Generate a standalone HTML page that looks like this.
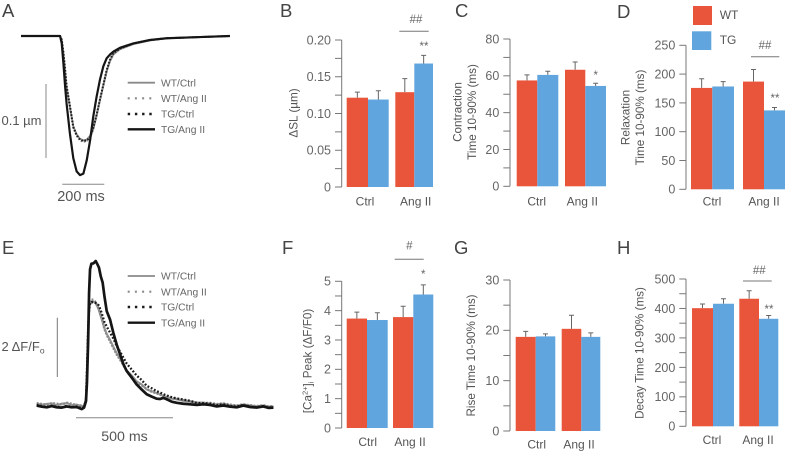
<!DOCTYPE html>
<html lang="en">
<head>
<meta charset="utf-8">
<title>Cardiomyocyte contraction and calcium transients</title>
<style>
html,body{margin:0;padding:0;background:#fff;}
svg{display:block;font-family:"Liberation Sans",sans-serif;filter:blur(0.3px);}
text{fill:#555;}
.letter{font-size:18.5px;fill:#444;}
.leg{font-size:10.3px;fill:#666;}
.tick{font-size:12.5px;fill:#666;}
.cat{font-size:12px;fill:#555;}
.title{font-size:11.7px;fill:#555;}
.sig{font-size:11.5px;fill:#666;}
</style>
</head>
<body>
<svg id="fig" xmlns="http://www.w3.org/2000/svg" width="785" height="452" viewBox="0 0 785 452">
  <text class="letter" x="2" y="17">A</text>
  <text class="letter" x="280" y="17">B</text>
  <text class="letter" x="455" y="17">C</text>
  <text class="letter" x="617" y="18">D</text>
  <text class="letter" x="2" y="254">E</text>
  <text class="letter" x="282" y="254">F</text>
  <text class="letter" x="454" y="254">G</text>
  <text class="letter" x="617" y="254">H</text>

  <g>
    <rect x="693" y="6" width="19" height="19" fill="#E9553A"/>
    <rect x="692" y="31.3" width="19.3" height="18.7" fill="#60A5DD"/>
    <text x="719.7" y="19" font-size="12">WT</text>
    <text x="719.7" y="44" font-size="12">TG</text>
  </g>

  <g>
    <line x1="46" y1="84" x2="46" y2="158" stroke="#888" stroke-width="1"/>
    <line x1="62.3" y1="184.3" x2="104.3" y2="184.3" stroke="#888" stroke-width="1"/>
    <text x="1.5" y="125" font-size="13">0.1 µm</text>
    <text x="81" y="201" font-size="14.5" text-anchor="middle">200 ms</text>
  </g>
  <g>
    <line x1="57.3" y1="317.7" x2="57.3" y2="377" stroke="#777" stroke-width="1"/>
    <line x1="76" y1="417.7" x2="173" y2="417.7" stroke="#888" stroke-width="1"/>
    <text x="1.5" y="351" font-size="13">2 ΔF/F<tspan font-size="8.5" dy="2.5">o</tspan></text>
    <text x="124.5" y="441" font-size="14.2" text-anchor="middle">500 ms</text>
  </g>

  <g>
    <line x1="399.3" y1="31.3" x2="428.7" y2="31.3" stroke="#777"/>
    <text class="sig" x="416" y="23" text-anchor="middle">##</text>
    <text class="sig" x="424" y="50" text-anchor="middle">**</text>
  </g>
  <text class="sig" x="595.7" y="79" text-anchor="middle">*</text>
  <g>
    <line x1="751" y1="56.7" x2="779.3" y2="56.7" stroke="#777"/>
    <text class="sig" x="765" y="49" text-anchor="middle">##</text>
    <text class="sig" x="775" y="102" text-anchor="middle">**</text>
  </g>
  <g>
    <line x1="394.7" y1="259.3" x2="423.7" y2="259.3" stroke="#777"/>
    <text class="sig" x="409.3" y="249.5" text-anchor="middle">#</text>
    <text class="sig" x="423.3" y="278" text-anchor="middle">*</text>
  </g>
  <g>
    <line x1="743" y1="281" x2="771.7" y2="281" stroke="#777"/>
    <text class="sig" x="759.3" y="274" text-anchor="middle">##</text>
    <text class="sig" x="769" y="313" text-anchor="middle">**</text>
  </g>

  <text class="title" transform="translate(297.7,113) rotate(-90)" text-anchor="middle">ΔSL (µm)</text>
  <text class="title" transform="translate(461.7,112) rotate(-90)" text-anchor="middle">Contraction</text>
  <text class="title" transform="translate(476,112) rotate(-90)" text-anchor="middle">Time 10-90% (ms)</text>
  <text class="title" transform="translate(629.3,117.5) rotate(-90)" text-anchor="middle">Relaxation</text>
  <text class="title" transform="translate(644,117.5) rotate(-90)" text-anchor="middle">Time 10-90% (ms)</text>
  <text class="title" transform="translate(311.7,361) rotate(-90)" text-anchor="middle">[Ca<tspan font-size="7.5" dy="-4">2+</tspan><tspan dy="4">]</tspan><tspan font-size="7.5" dy="2">i</tspan><tspan dy="-2"> Peak (ΔF/F0)</tspan></text>
  <text class="title" transform="translate(475,355.5) rotate(-90)" text-anchor="middle">Rise Time 10-90% (ms)</text>
  <text class="title" transform="translate(643.3,353) rotate(-90)" text-anchor="middle">Decay Time 10-90% (ms)</text>
</svg>

<script>
// ---------- Panel A: sarcomere shortening traces ----------
const aTimes = [0,186,194,202,210,217,233,249,265,281,297,313,329,344,360,376,392,408,424,440,471,535,614,694,852,995];
const aTgAng  = [0,0,-.010,-.037,-.068,-.091,-.132,-.165,-.183,-.188,-.186,-.168,-.141,-.109,-.082,-.059,-.041,-.030,-.025,-.021,-.016,-.010,-.0054,-.003,-.0014,0];
const aTgCtrl = [0,0,-.005,-.023,-.046,-.068,-.095,-.123,-.134,-.140,-.142,-.141,-.137,-.125,-.107,-.086,-.066,-.046,-.032,-.023,-.017,-.010,-.0054,-.003,-.0014,0];
const aWtCtrl = [0,0,-.006,-.024,-.047,-.069,-.096,-.122,-.133,-.139,-.141,-.140,-.135,-.124,-.106,-.086,-.067,-.048,-.034,-.025,-.018,-.011,-.006,-.003,-.0014,0];
const aWtAng  = [0,0,-.005,-.022,-.045,-.067,-.094,-.124,-.135,-.141,-.143,-.142,-.138,-.126,-.108,-.087,-.067,-.047,-.033,-.024,-.017,-.010,-.0056,-.003,-.0014,0];

// ---------- Panel E: calcium transient traces ----------
const eTimes = [0,26,52,77,103,129,155,180,206,232,244,254,259,265,270,275,282,292,304,313,321,330,340,349,361,378,395,412,430,447,464,490,515,541,567,593,619,636,653,670,696,722,756,790,825,859,893,928,962,997,1031,1065,1100,1134,1168,1194,1220];
const eTgAng  = [.04,0,-.02,.02,-.02,-.03,.01,-.02,-.01,-.08,-.03,.19,.81,2.16,3.84,4.63,4.82,4.83,4.91,4.80,4.69,4.40,4.18,3.73,3.22,2.94,2.49,2.10,1.76,1.43,1.20,.98,.75,.58,.42,.34,.27,.26,.30,.25,.17,.13,.10,.08,.06,.08,.06,.01,.04,0,-.02,.04,-.01,-.03,.01,-.04,-.03];
const eTgCtrl = [.06,.02,-.01,.03,0,-.02,.03,-.01,0,-.05,-.01,.20,1.20,2.60,3.30,3.50,3.53,3.52,3.50,3.48,3.40,3.25,3.05,2.85,2.70,2.50,2.30,2.05,1.85,1.65,1.45,1.25,1.05,.90,.70,.62,.52,.48,.42,.38,.32,.28,.24,.20,.13,.12,.10,.05,.08,.02,0,.06,0,-.02,.02,-.03,-.02];
const eWtCtrl = [.10,.07,.09,.11,.05,.10,.12,.06,.07,.02,.03,.25,1.10,2.40,3.20,3.45,3.50,3.55,3.48,3.38,3.25,3.05,2.85,2.65,2.45,2.25,2.02,1.80,1.62,1.42,1.22,1.05,.85,.75,.58,.52,.46,.42,.36,.32,.27,.25,.20,.17,.12,.14,.10,.08,.10,.05,.03,.07,.04,.01,.04,0,.01];
const eWtAng  = [.12,.09,.06,.12,.10,.07,.13,.10,.05,.04,.02,.22,1.05,2.30,3.25,3.55,3.62,3.60,3.52,3.40,3.28,3.08,2.88,2.62,2.42,2.20,1.98,1.76,1.58,1.40,1.20,1.02,.84,.72,.60,.50,.45,.40,.38,.34,.30,.26,.22,.18,.14,.12,.13,.09,.11,.07,.04,.08,.05,.02,.05,.01,.02];

// ---------- Bar panels ----------
const categories = ['Ctrl', 'Ang II'];

const bWt = [.1215,.129];
const bTg = [.119,.168];
const bWtTop = [.129,.1475];
const bTgTop = [.131,.179];
const bTickValues = [0,.025,.05,.075,.1,.125,.15,.175,.2];
const bTickLabels = ['0','','0.05','','0.10','','0.15','','0.20'];

const cWt = [57.5,63.3];
const cTg = [60.5,54.5];
const cWtTop = [60.5,67.5];
const cTgTop = [62.5,56];
const cTickValues = [0,10,20,30,40,50,60,70,80];
const cTickLabels = ['0','','20','','40','','60','','80'];

const dWt = [176,187];
const dTg = [178.5,137];
const dWtTop = [192,208];
const dTgTop = [187,142];
const dTickValues = [0,50,100,150,200,250];
const dTickLabels = ['0','50','100','150','200','250'];

const fWt = [3.73,3.78];
const fTg = [3.68,4.55];
const fWtTop = [3.95,4.15];
const fTgTop = [3.93,4.88];
const fTickValues = [0,.5,1,1.5,2,2.5,3,3.5,4,4.5,5];
const fTickLabels = ['0','','1','','2','','3','','4','','5'];

const gWt = [18.7,20.3];
const gTg = [18.8,18.7];
const gWtTop = [19.8,23];
const gTgTop = [19.3,19.5];
const gTickValues = [0,5,10,15,20,25,30];
const gTickLabels = ['0','','10','','20','','30'];

const hWt = [401,433];
const hTg = [416,365];
const hWtTop = [415,460];
const hTgTop = [433,376];
const hTickValues = [0,50,100,150,200,250,300,350,400,450,500];
const hTickLabels = ['0','','100','','200','','300','','400','','500'];

const NS = 'http://www.w3.org/2000/svg';
const fig = document.getElementById('fig');
const RED = '#E9553A', BLUE = '#60A5DD';

function make(tag, attrs, parent) {
  const el = document.createElementNS(NS, tag);
  for (const k in attrs) el.setAttribute(k, attrs[k]);
  parent.appendChild(el);
  return el;
}

function drawTrace(name, times, values, xf, yf, style) {
  const d = times.map((t, i) => (i ? 'L' : 'M') + xf(t).toFixed(2) + ' ' + yf(values[i]).toFixed(2)).join('');
  const p = make('path', Object.assign({d: d, fill: 'none', 'stroke-linejoin': 'round'}, style), fig);
  
  
}

const xA = t => 21 + 0.21 * t;
const yA = v => 36 - 740 * v;
drawTrace('trace-a-wt-ctrl', aTimes, aWtCtrl, xA, yA, {stroke: '#8a8a8a', 'stroke-width': 1.8});
drawTrace('trace-a-wt-ang', aTimes, aWtAng, xA, yA, {stroke: '#8a8a8a', 'stroke-width': 2, 'stroke-dasharray': '1.6 1.6'});
drawTrace('trace-a-tg-ctrl', aTimes, aTgCtrl, xA, yA, {stroke: '#1a1a1a', 'stroke-width': 2, 'stroke-dasharray': '1.6 1.6'});
drawTrace('trace-a-tg-ang', aTimes, aTgAng, xA, yA, {stroke: '#151515', 'stroke-width': 2.2});

const xE = t => 36.7 + 0.194 * t;
const yE = v => 406.7 - 29.67 * v;
drawTrace('trace-e-wt-ctrl', eTimes, eWtCtrl, xE, yE, {stroke: '#999', 'stroke-width': 2.2});
drawTrace('trace-e-wt-ang', eTimes, eWtAng, xE, yE, {stroke: '#888', 'stroke-width': 2.4, 'stroke-dasharray': '1.8 1.6'});
drawTrace('trace-e-tg-ctrl', eTimes, eTgCtrl, xE, yE, {stroke: '#1a1a1a', 'stroke-width': 2.3, 'stroke-dasharray': '1.8 1.8'});
drawTrace('trace-e-tg-ang', eTimes, eTgAng, xE, yE, {stroke: '#151515', 'stroke-width': 2.7});

function drawLegend(prefix, rows) {
  const labels = ['WT/Ctrl', 'WT/Ang II', 'TG/Ctrl', 'TG/Ang II'];
  const styles = [
    {stroke: '#8a8a8a', 'stroke-width': 1.8},
    {stroke: '#8a8a8a', 'stroke-width': 2.2, 'stroke-dasharray': '2 5.2'},
    {stroke: '#1a1a1a', 'stroke-width': 2.4, 'stroke-dasharray': '2.4 4.8'},
    {stroke: '#151515', 'stroke-width': 2.4}
  ];
  labels.forEach((label, i) => {
    const ln = make('line', Object.assign({x1: 127.7, x2: 155, y1: rows[i], y2: rows[i]}, styles[i]), fig);
    
    
    const tx = make('text', {x: 161, y: rows[i] + 3.6, class: 'leg'}, fig);
    
    
    tx.textContent = label;
  });
}
drawLegend('trace-a', [82.7, 98.3, 114, 129.3]);
drawLegend('trace-e', [276, 291.7, 307, 322.7]);

function drawBars(p) {
  const y = v => p.y0 - (v - 0) * (p.y0 - p.top) / p.max;
  const axis = make('line', {x1: p.axisX, x2: p.axisX, y1: p.top, y2: p.y0, stroke: '#777', 'stroke-width': 1}, fig);
  
  
  p.tickValues.forEach((tv, i) => {
    const tk = make('line', {x1: p.axisX - 6.7, x2: p.axisX, y1: y(tv), y2: y(tv), stroke: '#777', 'stroke-width': 1}, fig);
    
    
    if (p.tickLabels[i]) {
      const lb = make('text', {x: p.axisX - 10.7, y: y(tv) + 4.4, 'text-anchor': 'end', class: 'tick'}, fig);
      
      
      lb.textContent = p.tickLabels[i];
    }
  });
  categories.forEach((cat, g) => {
    const left = p.groupLeft[g], ws = p.barWidths[g];
    const series = [
      {key: 'wt', val: p.wt[g], top: p.wtTop[g], color: RED, x: left, w: ws[0]},
      {key: 'tg', val: p.tg[g], top: p.tgTop[g], color: BLUE, x: left + ws[0], w: ws[1]}
    ];
    series.forEach(s => {
      const cx = s.x + s.w / 2;
      const err = make('path', {d: 'M' + cx + ' ' + y(s.val) + 'V' + y(s.top) + 'M' + (cx - 2.5) + ' ' + y(s.top) + 'H' + (cx + 2.5), stroke: '#666', 'stroke-width': 1, fill: 'none'}, fig);
      
      
      const r = make('rect', {x: s.x, y: y(s.val), width: s.w, height: p.y0 - y(s.val), fill: s.color}, fig);
      
      
    });
    const c = make('text', {x: p.catX[g], y: p.catY, 'text-anchor': 'middle', class: 'cat'}, fig);
    
    
    c.textContent = cat;
  });
}

drawBars({id:'b', axisX:341.7, y0:187, top:40, max:.2, tickValues:bTickValues, tickLabels:bTickLabels,
  wt:bWt, tg:bTg, wtTop:bWtTop, tgTop:bTgTop,
  groupLeft:[346.7,395.3], barWidths:[[21.3,20.7],[19,18.7]], catX:[365,415.7], catY:205.7});
drawBars({id:'c', axisX:510, y0:186.3, top:39, max:80, tickValues:cTickValues, tickLabels:cTickLabels,
  wt:cWt, tg:cTg, wtTop:cWtTop, tgTop:cTgTop,
  groupLeft:[516.7,565], barWidths:[[20.6,21],[20.3,20.7]], catX:[536.7,582.3], catY:205.7});
drawBars({id:'d', axisX:686, y0:189.3, top:45.3, max:250, tickValues:dTickValues, tickLabels:dTickLabels,
  wt:dWt, tg:dTg, wtTop:dWtTop, tgTop:dTgTop,
  groupLeft:[691,743], barWidths:[[21.3,21.7],[21,21]], catX:[712,764], catY:205.7});
drawBars({id:'f', axisX:341.7, y0:428, top:281.3, max:5, tickValues:fTickValues, tickLabels:fTickLabels,
  wt:fWt, tg:fTg, wtTop:fWtTop, tgTop:fTgTop,
  groupLeft:[346.7,393], barWidths:[[20.3,20.7],[20.3,20]], catX:[367.7,410], catY:446});
drawBars({id:'g', axisX:510, y0:431, top:280, max:30, tickValues:gTickValues, tickLabels:gTickLabels,
  wt:gWt, tg:gTg, wtTop:gWtTop, tgTop:gTgTop,
  groupLeft:[515.7,561.7], barWidths:[[20,19.6],[19.6,19]], catX:[536.7,579], catY:448.7});
drawBars({id:'h', axisX:686, y0:426.3, top:279, max:500, tickValues:hTickValues, tickLabels:hTickLabels,
  wt:hWt, tg:hTg, wtTop:hWtTop, tgTop:hTgTop,
  groupLeft:[692,739.3], barWidths:[[21,21],[19.7,19.3]], catX:[712,758], catY:444});
</script>
</body>
</html>
